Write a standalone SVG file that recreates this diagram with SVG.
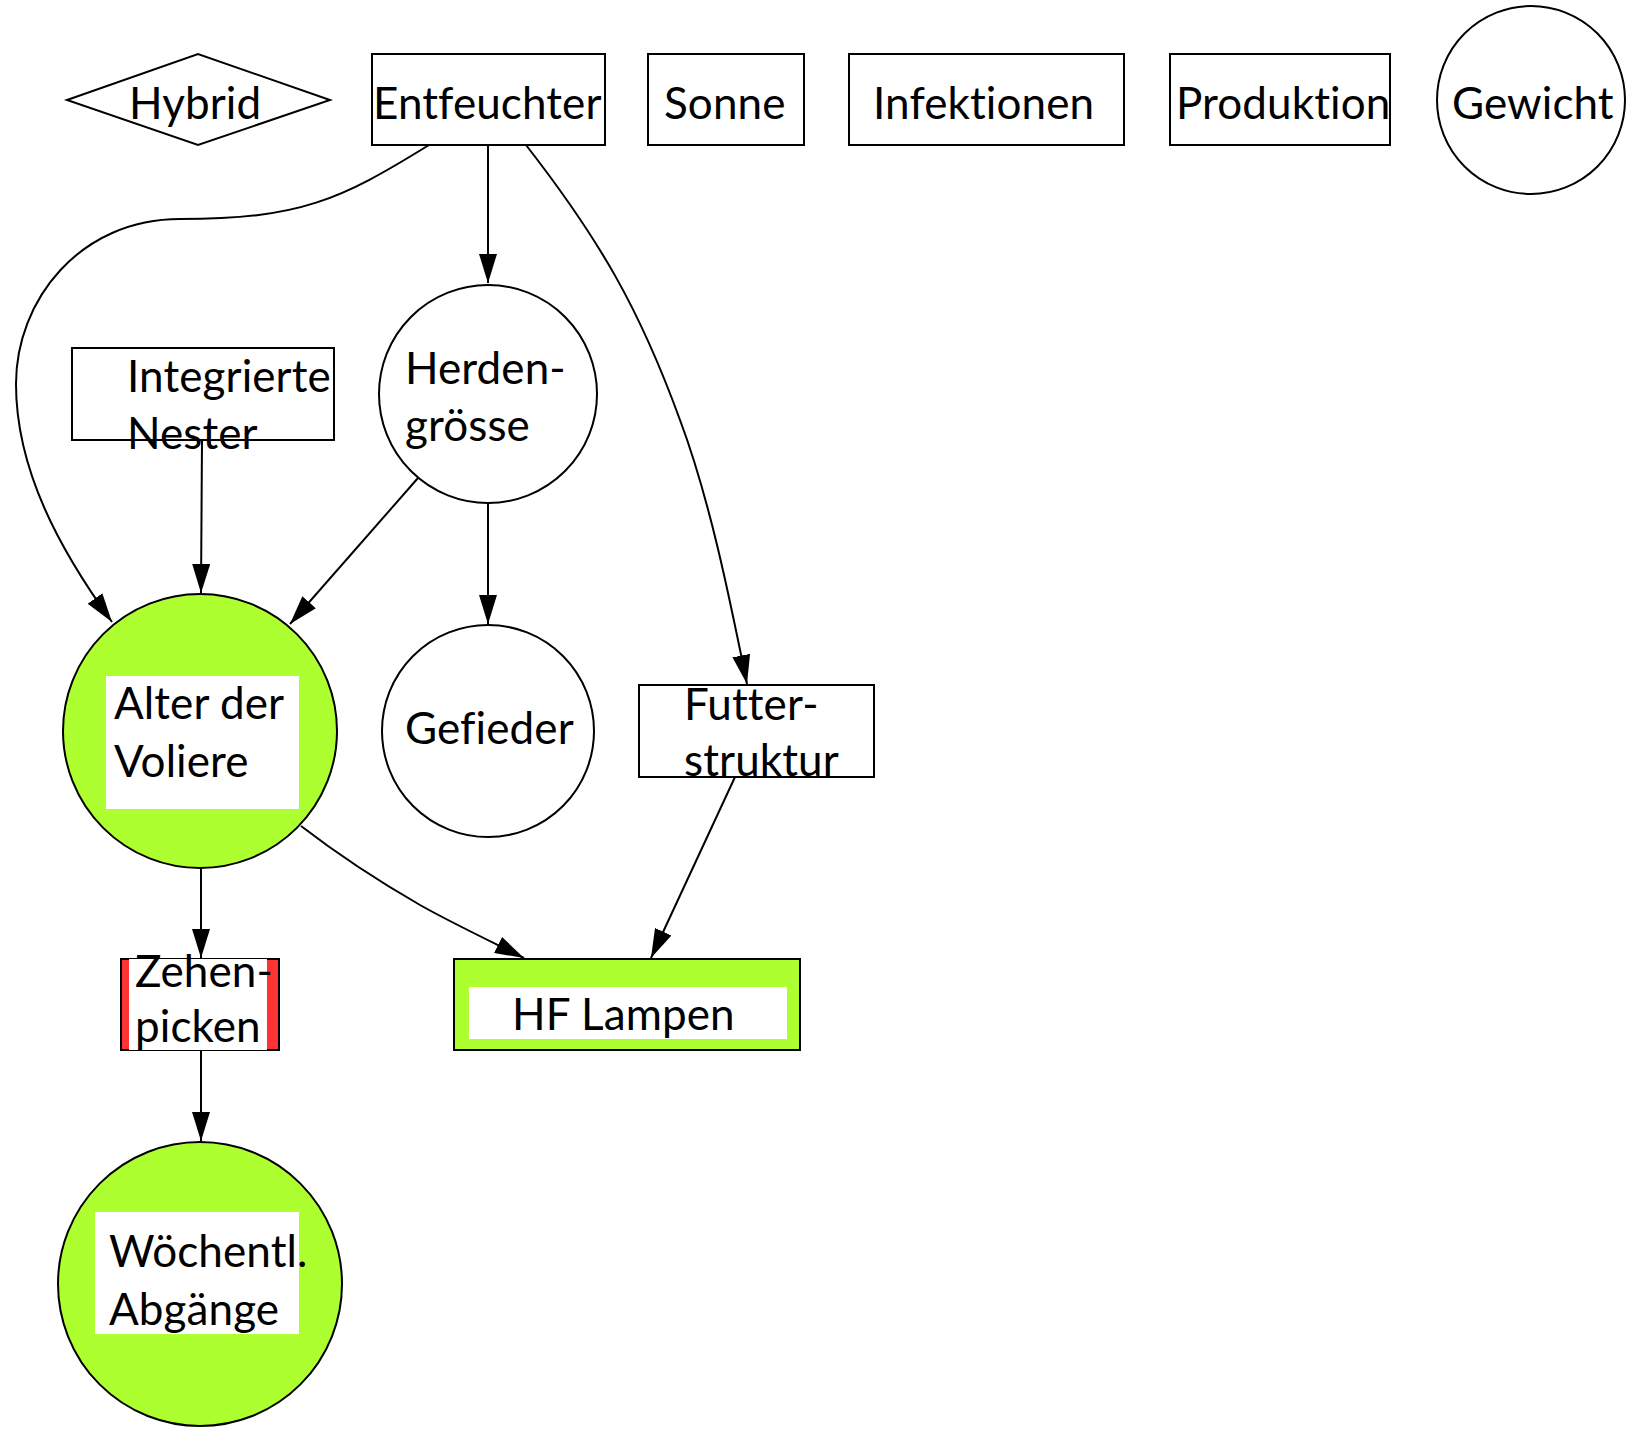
<svg xmlns="http://www.w3.org/2000/svg" width="1626" height="1432" viewBox="0 0 1626 1432">
<style>
  .shape { stroke: #000; stroke-width: 2; fill: #fff; }
  .green { fill: #adff2f; }
  .lbl { font-family: Lato, "Open Sans", "Liberation Sans", sans-serif; font-size: 44px; fill: #000; font-variant-ligatures: none; font-feature-settings: "liga" 0, "clig" 0, "dlig" 0; letter-spacing: 0.1px; }
  .edge { fill: none; stroke: #000; stroke-width: 2; marker-end: url(#arrow); }
</style>
<defs>
  <marker id="arrow" markerUnits="userSpaceOnUse" viewBox="0 0 29 18" markerWidth="29" markerHeight="18" refX="29" refY="9" orient="auto">
    <path d="M0,0 L29,9 L0,18 z" fill="#000"/>
  </marker>
</defs>
<rect width="1626" height="1432" fill="#fff"/>

<g id="connectors">
  <path class="edge" d="M429,145 C340,200 300,219 180,219 C80,219 16,300 16,384 C16,470 60,550 112,622"/>
  <path class="edge" d="M488,145 L488,283"/>
  <path class="edge" d="M526,145 C600,240 640,310 680,420 C710,500 730,600 747,684"/>
  <path class="edge" d="M202,440 L201,593"/>
  <path class="edge" d="M418,478 L290,624"/>
  <path class="edge" d="M488,503 L488,624"/>
  <path class="edge" d="M201,868 L201,958"/>
  <path class="edge" d="M301,826 C340,856 380,882 420,905 C450,922 490,941 524,958"/>
  <path class="edge" d="M735,777 L651,958"/>
  <path class="edge" d="M201,1050 L201,1141"/>
</g>

<g id="hybrid">
  <polygon class="shape" points="67,100 198,54 330,100 198,145"/>
  <text class="lbl" x="129" y="119">Hybrid</text>
</g>
<g id="entfeuchter">
  <rect class="shape" x="372" y="54" width="233" height="91"/>
  <text class="lbl" x="373" y="119">Entfeuchter</text>
</g>
<g id="sonne">
  <rect class="shape" x="648" y="54" width="156" height="91"/>
  <text class="lbl" x="664" y="119">Sonne</text>
</g>
<g id="infektionen">
  <rect class="shape" x="849" y="54" width="275" height="91"/>
  <text class="lbl" x="873" y="119">Infektionen</text>
</g>
<g id="produktion">
  <rect class="shape" x="1170" y="54" width="220" height="91"/>
  <text class="lbl" x="1176" y="119">Produktion</text>
</g>
<g id="gewicht">
  <circle class="shape" cx="1531" cy="100" r="94"/>
  <text class="lbl" x="1452" y="119">Gewicht</text>
</g>
<g id="herdengroesse">
  <circle class="shape" cx="488" cy="394" r="109"/>
  <text class="lbl" x="405" y="384">Herden-</text>
  <text class="lbl" x="405" y="441">grösse</text>
</g>
<g id="integrierte-nester">
  <rect class="shape" x="72" y="348" width="262" height="92"/>
  <text class="lbl" x="127" y="392">Integrierte</text>
  <text class="lbl" x="127" y="449">Nester</text>
</g>
<g id="alter-der-voliere">
  <circle class="shape green" cx="200" cy="731" r="137"/>
  <rect x="106" y="676" width="193" height="133" fill="#fff"/>
  <text class="lbl" x="114" y="719">Alter der</text>
  <text class="lbl" x="114" y="777">Voliere</text>
</g>
<g id="gefieder">
  <circle class="shape" cx="488" cy="731" r="106"/>
  <text class="lbl" x="405" y="744">Gefieder</text>
</g>
<g id="futterstruktur">
  <rect class="shape" x="639" y="685" width="235" height="92"/>
  <text class="lbl" x="684" y="720">Futter-</text>
  <text class="lbl" x="684" y="776">struktur</text>
</g>
<g id="zehenpicken">
  <rect x="121" y="959" width="158" height="91" fill="#ff3333" stroke="#000" stroke-width="2"/>
  <rect x="129" y="959" width="138" height="91" fill="#fff"/>
  <text class="lbl" x="135" y="987">Zehen-</text>
  <text class="lbl" x="135" y="1042">picken</text>
</g>
<g id="hf-lampen">
  <rect class="shape green" x="454" y="959" width="346" height="91"/>
  <rect x="469" y="987" width="318" height="52" fill="#fff"/>
  <text class="lbl" x="512" y="1030">HF Lampen</text>
</g>
<g id="woechentl-abgaenge">
  <circle class="shape green" cx="200" cy="1284" r="142"/>
  <rect x="95" y="1212" width="204" height="122" fill="#fff"/>
  <text class="lbl" x="109" y="1267">Wöchentl.</text>
  <text class="lbl" x="109" y="1325">Abgänge</text>
</g>
</svg>
